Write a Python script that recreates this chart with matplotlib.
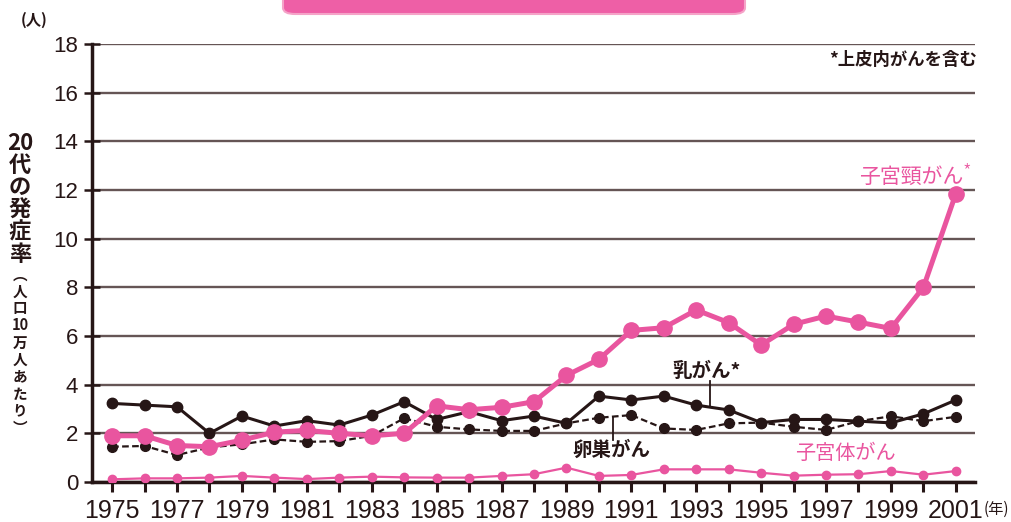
import matplotlib
matplotlib.use("Agg")
import matplotlib.pyplot as plt
from matplotlib.patches import FancyBboxPatch

years = list(range(1975, 2002))
cervical = [1.9, 1.9, 1.5, 1.45, 1.72, 2.05, 2.12, 2.0, 1.9, 2.0,
            3.13, 2.97, 3.07, 3.3, 4.38, 5.04, 6.23, 6.34, 7.07, 6.55,
            5.63, 6.48, 6.82, 6.57, 6.31, 8.0, 11.85]
breast = [3.23, 3.16, 3.09, 2.0, 2.71, 2.3, 2.52, 2.34, 2.75, 3.3,
          2.57, 2.89, 2.52, 2.71, 2.41, 3.53, 3.37, 3.53, 3.16, 2.96,
          2.44, 2.57, 2.57, 2.5, 2.43, 2.8, 3.37]
ovarian = [1.45, 1.48, 1.11, 1.42, 1.55, 1.75, 1.65, 1.68, 1.9, 2.62,
           2.27, 2.16, 2.1, 2.1, 2.41, 2.64, 2.75, 2.2, 2.14, 2.41,
           2.44, 2.27, 2.14, 2.5, 2.7, 2.5, 2.68]
uterine = [0.11, 0.15, 0.15, 0.18, 0.25, 0.18, 0.12, 0.18, 0.22, 0.19,
           0.18, 0.18, 0.25, 0.32, 0.59, 0.25, 0.29, 0.52, 0.52, 0.52,
           0.38, 0.26, 0.3, 0.32, 0.45, 0.3, 0.45]
xtick_labels = [str(y) if y % 2 == 1 else "" for y in years]
yticks = list(range(0, 19, 2))

PINK = "#e9559f"
DARK = "#261616"
GRID = "#655555"
CJK = ["Noto Sans CJK JP", "DejaVu Sans"]
NUM = ["Liberation Sans Narrow", "Liberation Sans", "DejaVu Sans"]

plt.rcParams["font.family"] = NUM

fig = plt.figure(figsize=(10.11, 5.22), dpi=100)
ax = fig.add_axes([92 / 1011, 1 - 482 / 522, (975 - 92) / 1011, (482 - 44) / 522])

ax.set_xlim(1974.38, 2001.59)
ax.set_ylim(0, 18)

ax.set_axisbelow(True)
ax.yaxis.grid(True, color=GRID, linewidth=1.7)
ax.xaxis.grid(False)

ax.plot(years, uterine, color=PINK, lw=1.6, marker="o", ms=6, zorder=3)
ax.plot(years, ovarian, color=DARK, lw=1.6, ls=(0, (3, 1.5)), marker="o", ms=7, zorder=4)
ax.plot(years, breast, color=DARK, lw=2.2, marker="o", ms=7.5, zorder=5)
ax.plot(years, cervical, color=PINK, lw=3.6, marker="o", ms=11, zorder=6)

for s in ["top", "right"]:
    ax.spines[s].set_visible(False)
for s in ["left", "bottom"]:
    ax.spines[s].set_color(DARK)
    ax.spines[s].set_linewidth(2.5)

ax.set_xticks(years)
ax.set_xticklabels(xtick_labels, fontsize=18, color=DARK)
ax.set_yticks(yticks)
ax.set_yticklabels([str(v) for v in yticks], fontsize=16, color=DARK)
ax.tick_params(axis="x", direction="out", length=7, width=2.2, color=DARK, pad=5)
ax.tick_params(axis="y", direction="inout", length=12, width=1.8, color=DARK, pad=4)

# annotations
ax.text(2001.22, 12.53, "子宮頸がん", family=CJK, fontsize=15, color=PINK,
        ha="right", va="center")
ax.text(2001.2, 12.7, "*", family=CJK, fontsize=14, color=PINK,
        ha="left", va="center", fontweight="light")
ax.text(2001.65, 17.33, "*上皮内がんを含む", family=CJK, fontsize=12.5, color=DARK,
        ha="right", va="center", fontweight="bold")
ax.text(1992.28, 4.56, "乳がん*", family=CJK, fontsize=14, color=DARK,
        ha="left", va="center", fontweight="bold")
ax.plot([1993.42, 1993.42], [3.08, 4.15], color=DARK, lw=1.3, zorder=7)
ax.text(1989.17, 1.31, "卵巣がん", family=CJK, fontsize=14, color=DARK,
        ha="left", va="center", fontweight="bold")
ax.plot([1990.43, 1990.43], [1.72, 2.67], color=DARK, lw=1.3, zorder=7)
ax.text(1996.04, 1.19, "子宮体がん", family=CJK, fontsize=14.5, color=PINK,
        ha="left", va="center")

# figure texts
fig.text(34 / 1011, 1 - 20 / 522, "(人)", family=CJK, fontsize=11, color=DARK,
         ha="center", va="center", fontweight="bold")
fig.text(984 / 1011, 1 - 509 / 522, "(年)", family=CJK, fontsize=11, color=DARK,
         ha="left", va="center")
fig.text(20 / 1011, 1 - 199 / 522, "20\n代\nの\n発\n症\n率", family=CJK, fontsize=16,
         color=DARK, ha="center", va="center", fontweight="bold", linespacing=0.95,
         multialignment="center")
fig.text(20 / 1011, 1 - 351 / 522, "︵\n人\n口\n10\n万\n人\nあ\nた\nり\n︶", family=CJK,
         fontsize=10.5, color=DARK, ha="center", va="center", fontweight="bold",
         linespacing=1.08, multialignment="center")

# title banner (cut off at top)
banner = FancyBboxPatch((283 / 1011, 1 - 14 / 522), (745 - 283) / 1011, 30 / 522,
                        boxstyle="round,pad=0,rounding_size=0.012",
                        transform=fig.transFigure, facecolor="#ee5fa6",
                        edgecolor="#f5a3c8", linewidth=1.5, clip_on=False)
fig.patches.append(banner)

fig.savefig("out.png", dpi=100)
